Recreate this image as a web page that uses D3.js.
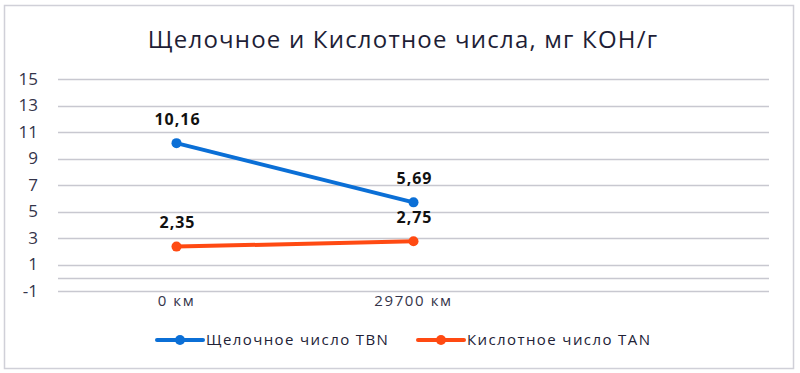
<!DOCTYPE html>
<html><head><meta charset="utf-8">
<script src="https://cdn.jsdelivr.net/npm/d3@7"></script>
<style>body{margin:0;background:#fff}svg{display:block}</style>
</head><body>
<svg id="c" width="800" height="373"></svg>
<script>
const title = "Щелочное и Кислотное числа, мг КОН/г";
const categories = ["0 км", "29700 км", ""];
const tbnValues = [10.16, 5.69];
const tanValues = [2.35, 2.75];
const tbnLabels = ["10,16", "5,69"];
const tanLabels = ["2,35", "2,75"];
const yTicks = [-1, 1, 3, 5, 7, 9, 11, 13, 15];
const seriesNames = ["Щелочное число TBN", "Кислотное число TAN"];
const colors = ["#0B6FD6", "#FF4A12"];

const svg = d3.select("#c");
const font = "'Open Sans', 'Noto Sans', sans-serif";
svg.append("rect").attr("x",4.5).attr("y",5.5).attr("width",789).attr("height",363)
  .attr("fill","#fff").attr("stroke","#d0d0d8").attr("stroke-width",1.5);

const x = d3.scaleBand().domain(categories).range([58, 769]);
const y = d3.scaleLinear().domain([-1, 15]).range([291, 79]);

svg.append("text").attr("x",403).attr("y",47.5).attr("text-anchor","middle")
  .attr("font-family",font).attr("font-size",24).attr("letter-spacing",1.2)
  .attr("fill","#1e1e36").text(title);

// gridlines
const grid = svg.append("g");
grid.selectAll("line").data(yTicks.concat([0])).join("line")
  .attr("x1",58).attr("x2",769)
  .attr("y1",d=>Math.round(y(d))+0.5).attr("y2",d=>Math.round(y(d))+0.5)
  .attr("stroke","#c8c8d0").attr("stroke-width",1.5);

// y axis labels
const yAxis = svg.append("g").attr("transform","translate(38,0)")
  .call(d3.axisLeft(y).tickValues(yTicks).tickFormat(d=>String(d)).tickSize(0).tickPadding(0));
yAxis.select(".domain").remove();
yAxis.selectAll("text").attr("font-family",font).attr("font-size",17).attr("fill","#34344a");

// x axis labels
const xAxis = svg.append("g").attr("transform","translate(0,292)")
  .call(d3.axisBottom(x).tickSize(0).tickPadding(3));
xAxis.select(".domain").remove();
xAxis.selectAll("text").attr("font-family",font).attr("font-size",15).attr("letter-spacing",1.6)
  .attr("fill","#34344a");

const cx = i => x(categories[i]) + x.bandwidth()/2;
const line = d3.line().x((d,i)=>cx(i)).y(d=>y(d));

[[tbnValues,tbnLabels],[tanValues,tanLabels]].forEach(([vals,labs],k)=>{
  const g = svg.append("g");
  g.append("path").attr("d",line(vals)).attr("fill","none")
    .attr("stroke",colors[k]).attr("stroke-width",4).attr("stroke-linecap","round");
  g.selectAll("circle").data(vals).join("circle")
    .attr("cx",(d,i)=>cx(i)).attr("cy",d=>y(d)).attr("r",5).attr("fill",colors[k]);
  g.selectAll("text").data(vals).join("text")
    .attr("x",(d,i)=>cx(i)+1).attr("y",d=>y(d)-18.5).attr("text-anchor","middle")
    .attr("font-family",font).attr("font-size",16).attr("font-weight","bold")
    .attr("letter-spacing",1).attr("fill","#111")
    .text((d,i)=>labs[i]);
});

// legend
const legX = [157, 418];
seriesNames.forEach((n,k)=>{
  const g = svg.append("g");
  g.append("line").attr("x1",legX[k]).attr("x2",legX[k]+46).attr("y1",340).attr("y2",340)
    .attr("stroke",colors[k]).attr("stroke-width",4).attr("stroke-linecap","round");
  g.append("circle").attr("cx",legX[k]+23).attr("cy",340).attr("r",5).attr("fill",colors[k]);
  g.append("text").attr("x",legX[k]+49).attr("y",344.5)
    .attr("font-family",font).attr("font-size",15).attr("letter-spacing",1.4)
    .attr("fill","#222236").text(n);
});
</script>
</body></html>
